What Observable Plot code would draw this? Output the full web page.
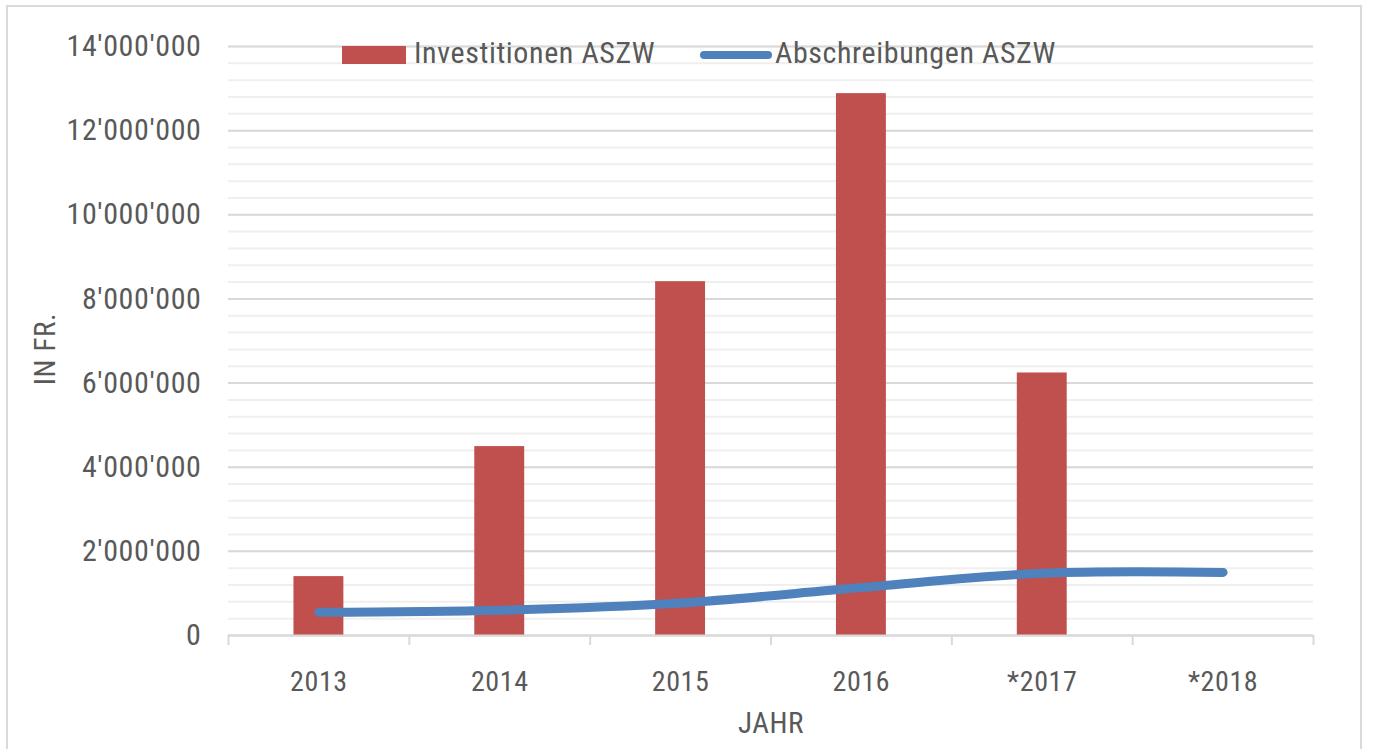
<!DOCTYPE html>
<html>
<head>
<meta charset="utf-8">
<script src="https://cdn.jsdelivr.net/npm/d3@7"></script>
<script src="https://cdn.jsdelivr.net/npm/@observablehq/plot@0.6"></script>
<style>
  html, body { margin: 0; padding: 0; background: #fff; }
  #wrap { position: relative; width: 1373px; height: 749px; overflow: hidden; }
  #border { position: absolute; left: 6px; top: 5px; width: 1356px; height: 760px; border: 2px solid #d9d9d9; box-sizing: border-box; pointer-events: none; }
  .leg { position: absolute; font-family: "Liberation Sans Narrow", "Roboto Condensed", "DejaVu Sans Condensed", sans-serif; font-size: 30px; color: #595959; letter-spacing: 0.6px; line-height: 1; white-space: nowrap; }
</style>
</head>
<body>
<div id="wrap">
  <div id="border"></div>
  <div id="chart"></div>
  <div class="leg" style="left:342px; top:46px; width:64px; height:18px; background:#C0504D;"></div>
  <div class="leg" style="left:414px; top:38px;">Investitionen ASZW</div>
  <div class="leg" style="left:700px; top:51px; width:72px; height:8px; border-radius:4px; background:#4F81BD;"></div>
  <div class="leg" style="left:775px; top:38px;">Abschreibungen ASZW</div>
</div>
<script>
const years = ["2013", "2014", "2015", "2016", "*2017", "*2018"];
const investitionen = [1400000, 4490000, 8410000, 12880000, 6240000, null];
const abschreibungen = [550000, 600000, 770000, 1140000, 1480000, 1500000];
const majorTicks = d3.range(0, 14000001, 2000000);
const minorTicks = d3.range(0, 14000001, 400000);

const bars = years.map((y, i) => ({i, year: y, value: investitionen[i]})).filter(d => d.value != null);
const line = years.map((y, i) => ({i, year: y, value: abschreibungen[i]}));

const fmt = d3.formatLocale({decimal: ".", thousands: "'", grouping: [3], currency: ["", ""]}).format(",");
const half = 0.138;
const font = "'Liberation Sans Narrow', 'Roboto Condensed', 'DejaVu Sans Condensed', sans-serif";

const chart = Plot.plot({
  width: 1373,
  height: 749,
  marginLeft: 228,
  marginRight: 60,
  marginTop: 46,
  marginBottom: 114,
  style: {fontFamily: font, fontSize: "30px", color: "#595959", background: "transparent", letterSpacing: "0.6px"},
  x: {domain: [0, years.length]},
  y: {domain: [0, 14000000]},
  marks: [
    Plot.ruleY(minorTicks, {stroke: "#efefef", strokeWidth: 2}),
    Plot.ruleY(majorTicks, {stroke: "#d9d9d9", strokeWidth: 2}),
    Plot.rectY(bars, {x1: d => d.i + 0.5 - half, x2: d => d.i + 0.5 + half, y1: 0, y2: "value", fill: "#C0504D"}),
    Plot.line(line, {x: d => d.i + 0.5, y: "value", stroke: "#4F81BD", strokeWidth: 9, curve: "catmull-rom", strokeLinecap: "round", strokeLinejoin: "round"}),
    Plot.ruleY([0], {stroke: "#d9d9d9", strokeWidth: 2}),
    Plot.axisX(d3.range(0, years.length + 1), {tickSize: 10, tickFormat: () => "", stroke: "#d9d9d9", strokeWidth: 2}),
    Plot.axisX(years.map((y, i) => i + 0.5), {tickSize: 0, tickPadding: 36, tickFormat: v => years[Math.round(v - 0.5)], label: null, fontSize: 28}),
    Plot.axisY(majorTicks, {tickSize: 0, tickPadding: 27, tickFormat: fmt, label: null, fontSize: 30}),
    Plot.text(["IN FR."], {frameAnchor: "left", textAnchor: "middle", rotate: -90, dx: -183, dy: 8, fontSize: 29, fill: "#595959", letterSpacing: "3px"}),
    Plot.text(["JAHR"], {frameAnchor: "bottom", dy: 97, fontSize: 29, fill: "#595959"})
  ]
});
document.getElementById("chart").appendChild(chart);
</script>
</body>
</html>
